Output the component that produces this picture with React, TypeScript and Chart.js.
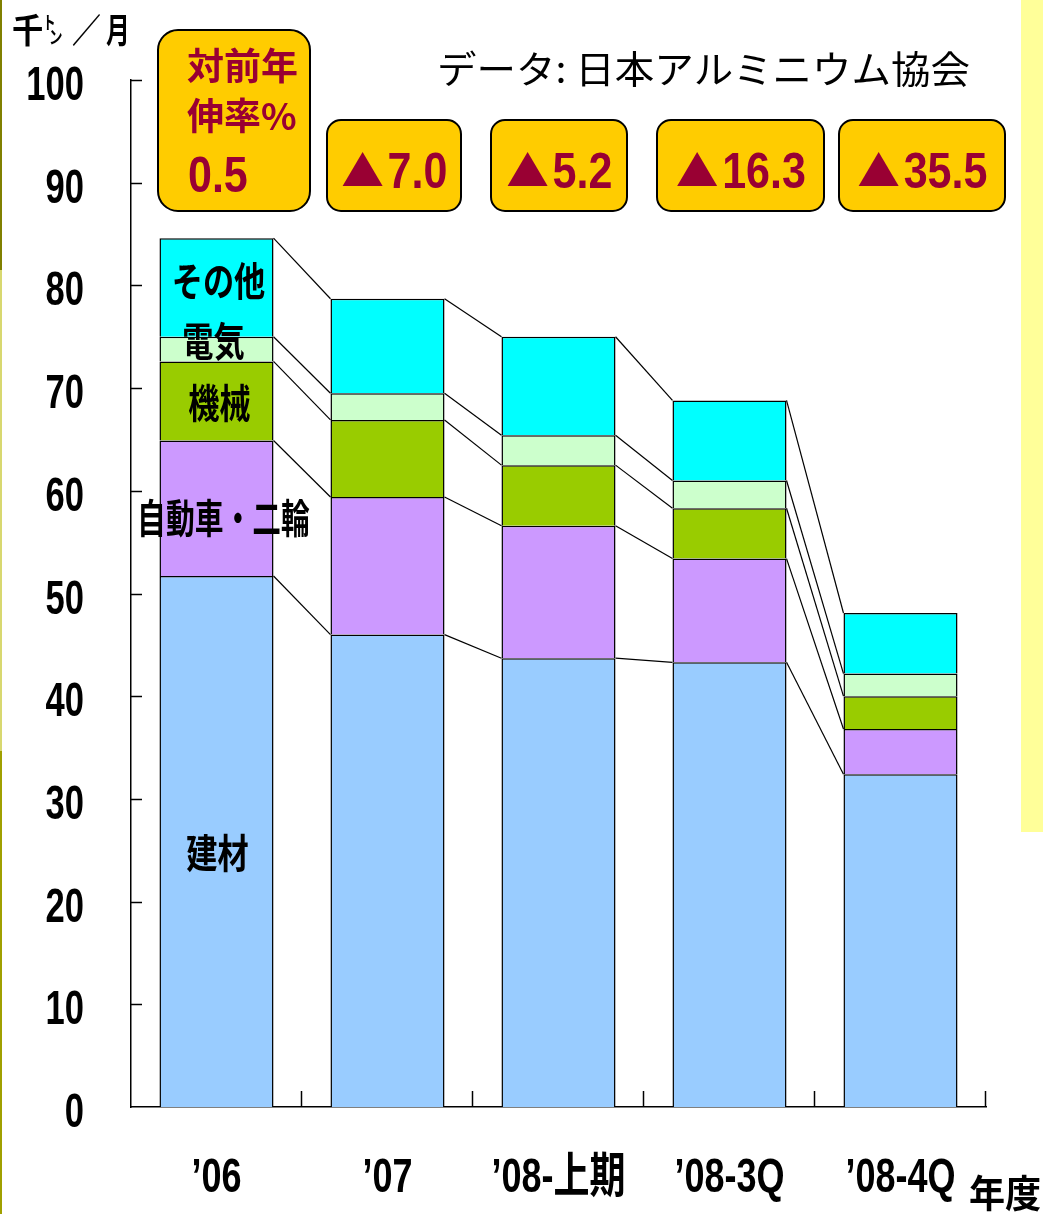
import React, { useEffect, useRef } from "react";
import { Chart, registerables } from "chart.js";

Chart.register(...registerables);

// ---- data ----
const categories = ["’06", "’07", "’08-上期", "’08-3Q", "’08-4Q"];
const seriesNames = ["建材", "自動車・二輪", "機械", "電気", "その他"];
const kenzai = [51.7, 46.0, 43.7, 43.3, 32.4];
const jidousha = [13.2, 13.4, 12.9, 10.1, 4.4];
const kikai = [7.7, 7.5, 5.9, 4.9, 3.2];
const denki = [2.4, 2.6, 2.9, 2.7, 2.2];
const sonota = [9.6, 9.2, 9.6, 7.8, 5.9];
const growthRates = [0.5, -7.0, -5.2, -16.3, -35.5];
const unitLabel = "千トン／月";
const sourceLabel = "データ: 日本アルミニウム協会";
const xAxisTitle = "年度";
const growthTitle = ["対前年", "伸率%"];

const seriesValues = [kenzai, jidousha, kikai, denki, sonota];
const seriesColors = ["#99CCFF", "#CC99FF", "#99CC00", "#CCFFCC", "#00FFFF"];
// where each series name is written inside the first bar (value units)
const seriesLabelAt = [24.8, 57.4, 68.6, 74.6, 80.4];
const seriesLabelDx = [1, 7, 3, -3, 2];
const seriesLabelSx = [0.78, 0.72, 0.78, 0.78, 0.78];

// annotation boxes: [x, y, w, h, radius]
const boxRects: number[][] = [
  [158, 30, 152, 181, 20],
  [327, 120, 134, 91, 14],
  [491, 120, 136, 91, 14],
  [657, 120, 167, 91, 14],
  [839, 120, 166, 91, 14],
];

const CJK = '"Noto Sans CJK JP"';
const LAT = '"Liberation Sans", "Noto Sans CJK JP"';
const ACCENT = "#990033";

function textScaled(
  ctx: CanvasRenderingContext2D,
  text: string,
  x: number,
  y: number,
  font: string,
  sx: number,
  align: CanvasTextAlign = "left",
  baseline: CanvasTextBaseline = "alphabetic",
  color = "#000"
) {
  ctx.save();
  ctx.font = font;
  ctx.fillStyle = color;
  ctx.textAlign = align;
  ctx.textBaseline = baseline;
  ctx.translate(x, y);
  ctx.scale(sx, 1);
  ctx.fillText(text, 0, 0);
  ctx.restore();
}

function textWidth(ctx: CanvasRenderingContext2D, text: string, font: string) {
  ctx.save();
  ctx.font = font;
  const w = ctx.measureText(text).width;
  ctx.restore();
  return w;
}

const decor = {
  id: "decor",
  beforeDraw(chart: any) {
    const ctx: CanvasRenderingContext2D = chart.ctx;
    const { width, height } = chart;
    ctx.save();
    ctx.fillStyle = "#FFFFFF";
    ctx.fillRect(0, 0, width, height);
    // side panel
    ctx.fillStyle = "#FFFF99";
    ctx.fillRect(1021, 0, width - 1021, 832);
    // left edge rule
    ctx.fillStyle = "#808000";
    ctx.fillRect(0, 0, 2, 270);
    ctx.fillStyle = "#D8D870";
    ctx.fillRect(0, 270, 2, 481);
    ctx.fillStyle = "#A0A000";
    ctx.fillRect(0, 751, 2, height - 751);
    ctx.restore();
  },
  afterDatasetsDraw(chart: any) {
    const ctx: CanvasRenderingContext2D = chart.ctx;
    const xs = chart.scales.x;
    const ys = chart.scales.y;
    const area = chart.chartArea;

    // connector lines between the tops of matching segments
    ctx.save();
    ctx.strokeStyle = "#000";
    ctx.lineWidth = 1.2;
    chart.data.datasets.forEach((_: any, d: number) => {
      const els = chart.getDatasetMeta(d).data;
      for (let i = 0; i < els.length - 1; i++) {
        const a = els[i];
        const b = els[i + 1];
        ctx.beginPath();
        ctx.moveTo(a.x + a.width / 2, a.y);
        ctx.lineTo(b.x - b.width / 2, b.y);
        ctx.stroke();
      }
    });

    // inward tick marks
    ctx.lineWidth = 1.5;
    ys.ticks.forEach((t: any) => {
      if (t.value === 0) return;
      const y = Math.round(ys.getPixelForValue(t.value)) + 0.5;
      ctx.beginPath();
      ctx.moveTo(area.left, y);
      ctx.lineTo(area.left + 11, y);
      ctx.stroke();
    });
    const n = chart.data.labels.length;
    const step = (area.right - area.left) / n;
    for (let i = 0; i < n; i++) {
      const x = Math.round(xs.getPixelForValue(i) + step / 2) - 0.5;
      ctx.beginPath();
      ctx.moveTo(x, area.bottom);
      ctx.lineTo(x, area.bottom - 16);
      ctx.stroke();
    }
    ctx.restore();

    // series names inside the first bar
    const cx = xs.getPixelForValue(0);
    seriesNames.forEach((name, s) => {
      textScaled(
        ctx,
        name,
        cx + seriesLabelDx[s],
        ys.getPixelForValue(seriesLabelAt[s]),
        `bold 40px ${CJK}`,
        seriesLabelSx[s],
        "center",
        "middle"
      );
    });
  },
  afterDraw(chart: any) {
    const ctx: CanvasRenderingContext2D = chart.ctx;
    const xs = chart.scales.x;
    const ys = chart.scales.y;
    const area = chart.chartArea;

    // y tick labels
    ys.ticks.forEach((t: any) => {
      const y = ys.getPixelForValue(t.value);
      textScaled(ctx, String(t.value), area.left - 47, y + 20, `bold 48px ${LAT}`, 0.72, "right");
    });

    // category labels
    chart.data.labels.forEach((lab: string, i: number) => {
      const x = xs.getPixelForValue(i);
      textScaled(ctx, lab, x, 1192, `bold 48px ${LAT}`, 0.75, "center");
    });

    // axis title
    textScaled(ctx, xAxisTitle, 1005, 1193, `bold 38px ${CJK}`, 0.95, "center", "middle");

    // unit label: big 千, small staggered トン, then ／月
    textScaled(ctx, unitLabel.slice(0, 1), 12, 30, `bold 34px ${CJK}`, 0.92, "left", "middle");
    textScaled(ctx, unitLabel.slice(1, 2), 43, 22, `bold 18px ${CJK}`, 0.7, "left", "middle");
    textScaled(ctx, unitLabel.slice(2, 3), 49, 37, `bold 18px ${CJK}`, 0.75, "left", "middle");
    textScaled(ctx, unitLabel.slice(3, 4), 72, 30, `bold 34px ${CJK}`, 0.85, "left", "middle");
    textScaled(ctx, unitLabel.slice(4), 106, 30, `bold 34px ${CJK}`, 0.7, "left", "middle");

    // source note
    const srcFont = `38px ${CJK}`;
    const sw = textWidth(ctx, sourceLabel, srcFont);
    textScaled(ctx, sourceLabel, 437, 69, srcFont, 533 / sw, "left", "middle");

    // growth-rate boxes
    const numFont = `bold 50px ${LAT}`;
    const numSx = 0.86;
    growthRates.forEach((g, i) => {
      const [bx, by, bw, bh, r] = boxRects[i];
      ctx.save();
      ctx.beginPath();
      ctx.roundRect(bx, by, bw, bh, r);
      ctx.fillStyle = "#FFCC00";
      ctx.fill();
      ctx.lineWidth = 2;
      ctx.strokeStyle = "#000";
      ctx.stroke();
      ctx.restore();

      const num = Math.abs(g).toFixed(1);
      if (i === 0) {
        textScaled(ctx, growthTitle[0], 187, 66, `bold 37px ${CJK}`, 1, "left", "middle", ACCENT);
        textScaled(ctx, growthTitle[1], 187, 116, `bold 37px ${CJK}`, 1, "left", "middle", ACCENT);
        textScaled(ctx, (g < 0 ? "▲" : "") + num, 188, 192, numFont, numSx, "left", "alphabetic", ACCENT);
        return;
      }
      const nw = textWidth(ctx, num, numFont) * numSx;
      const triW = 40;
      const gap = 5;
      const total = (g < 0 ? triW + gap : 0) + nw;
      let x = bx + bw / 2 - total / 2 + 1;
      const base = 188;
      if (g < 0) {
        ctx.save();
        ctx.fillStyle = ACCENT;
        ctx.beginPath();
        ctx.moveTo(x, base - 2);
        ctx.lineTo(x + triW, base - 2);
        ctx.lineTo(x + triW / 2, base - 36);
        ctx.closePath();
        ctx.fill();
        ctx.restore();
        x += triW + gap;
      }
      textScaled(ctx, num, x, base, numFont, numSx, "left", "alphabetic", ACCENT);
    });
  },
};

export default function App() {
  const ref = useRef<HTMLCanvasElement>(null);

  useEffect(() => {
    document.body.style.margin = "0";
    const canvas = ref.current;
    if (!canvas) return;
    const chart = new Chart(canvas, {
      type: "bar",
      data: {
        labels: categories,
        datasets: seriesNames.map((name, s) => ({
          label: name,
          data: seriesValues[s],
          backgroundColor: seriesColors[s],
          borderColor: "#000",
          borderWidth: { top: 1.5, left: 1.5, right: 1.5, bottom: 0 },
          borderSkipped: false,
          categoryPercentage: 1,
          barPercentage: 0.667,
        })),
      },
      options: {
        animation: false,
        responsive: false,
        maintainAspectRatio: false,
        devicePixelRatio: 1,
        layout: { padding: { left: 123, right: 57, top: 80, bottom: 99 } },
        plugins: { legend: { display: false }, tooltip: { enabled: false } },
        scales: {
          x: {
            stacked: true,
            grid: { display: false },
            border: { display: true, color: "#000", width: 1.5 },
            ticks: { display: false },
          },
          y: {
            stacked: true,
            min: 0,
            max: 100,
            grid: { display: false },
            border: { display: true, color: "#000", width: 1.5 },
            ticks: { display: false, stepSize: 10 },
          },
        },
      },
      plugins: [decor],
    } as any);
    return () => chart.destroy();
  }, []);

  return <canvas ref={ref} width={1043} height={1214} style={{ display: "block" }} />;
}
